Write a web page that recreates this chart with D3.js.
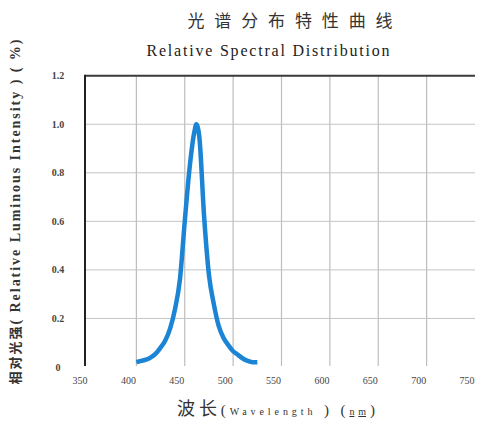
<!DOCTYPE html>
<html>
<head>
<meta charset="utf-8">
<script src="https://cdn.jsdelivr.net/npm/d3@7"></script>
<style>
  html, body { margin: 0; padding: 0; background: #fff; }
  svg { display: block; }
</style>
</head>
<body>
<div id="chart"></div>
<script>
// ---- data ----
const wavelengths = [400, 405, 410, 415, 420, 425, 430, 435, 440, 445, 450, 455, 460, 462, 465, 470, 475, 480, 485, 490, 495, 500, 505, 510, 515, 520, 525];
const intensity   = [0.02, 0.025, 0.03, 0.04, 0.055, 0.08, 0.11, 0.16, 0.24, 0.36, 0.60, 0.82, 0.97, 1.0, 0.95, 0.62, 0.38, 0.26, 0.17, 0.12, 0.09, 0.065, 0.05, 0.035, 0.025, 0.02, 0.02];
const xTicks = [350, 400, 450, 500, 550, 600, 650, 700, 750];
const yTicks = [0, 0.2, 0.4, 0.6, 0.8, 1.0, 1.2];
const yTickLabels = ["0", "0.2", "0.4", "0.6", "0.8", "1.0", "1.2"];
const titleText = "光谱分布特性曲线";
const subtitleText = "Relative Spectral Distribution";

// ---- layout ----
const W = 488, H = 429;
const svg = d3.select("#chart").append("svg").attr("width", W).attr("height", H);

const x = d3.scaleLinear().domain([350, 750]).range([88, 475]);
const y = d3.scaleLinear().domain([0, 1.2]).range([367, 75.7]);

const serif = "'Liberation Serif', 'DejaVu Serif', serif";
const cjk = "'Noto Sans CJK SC', sans-serif";

// vertical gridlines
svg.append("g").selectAll("line")
  .data(xTicks.filter(t => t > 350 && t < 750))
  .join("line")
  .attr("x1", d => x(d)).attr("x2", d => x(d))
  .attr("y1", y(1.2)).attr("y2", y(0) - 1)
  .attr("stroke", "#bdbdbd").attr("stroke-width", 1.2);

// horizontal gridlines
svg.append("g").selectAll("line")
  .data(yTicks.filter(t => t > 0 && t < 1.2))
  .join("line")
  .attr("x1", x(350) - 3).attr("x2", x(750))
  .attr("y1", d => y(d)).attr("y2", d => y(d))
  .attr("stroke", "#c4c4c4").attr("stroke-width", 1);

// top border
svg.append("line")
  .attr("x1", x(350) - 3).attr("x2", x(750))
  .attr("y1", y(1.2)).attr("y2", y(1.2))
  .attr("stroke", "#3a3a3a").attr("stroke-width", 2);

// left axis
svg.append("line")
  .attr("x1", x(350) - 3).attr("x2", x(350) - 3)
  .attr("y1", y(1.2) - 1).attr("y2", y(0) - 1)
  .attr("stroke", "#222").attr("stroke-width", 2);

// y tick labels
svg.append("g").selectAll("text")
  .data(yTicks)
  .join("text")
  .attr("x", 58).attr("y", d => y(d))
  .attr("dy", "0.35em")
  .attr("text-anchor", "middle")
  .attr("font-family", serif).attr("font-size", 10).attr("font-weight", "bold")
  .attr("fill", "#444")
  .text((d, i) => yTickLabels[i]);

// x tick labels
svg.append("g").selectAll("text")
  .data(xTicks)
  .join("text")
  .attr("x", d => x(d) - 8).attr("y", 384)
  .attr("text-anchor", "middle")
  .attr("font-family", serif).attr("font-size", 10)
  .attr("fill", "#444")
  .text(d => d);

// curve
const data = wavelengths.map((w, i) => ({ w, v: intensity[i] }));
const line = d3.line().x(d => x(d.w)).y(d => y(d.v)).curve(d3.curveMonotoneX);
svg.append("path")
  .datum(data)
  .attr("d", line)
  .attr("fill", "none")
  .attr("stroke", "#1b84d4")
  .attr("stroke-width", 4.5)
  .attr("stroke-linejoin", "round");

// title
svg.append("text")
  .attr("x", 290).attr("y", 27)
  .attr("text-anchor", "middle")
  .attr("font-family", cjk).attr("font-size", 17)
  .attr("textLength", 205).attr("lengthAdjust", "spacing")
  .attr("fill", "#333")
  .text(titleText);

// subtitle
svg.append("text")
  .attr("x", 268).attr("y", 56)
  .attr("text-anchor", "middle")
  .attr("font-family", serif).attr("font-size", 16)
  .attr("textLength", 243).attr("lengthAdjust", "spacing")
  .attr("fill", "#222")
  .text(subtitleText);

// y axis title
const yt = svg.append("text")
  .attr("transform", "translate(20,212) rotate(-90)")
  .attr("text-anchor", "middle")
  .attr("font-family", serif).attr("font-size", 14).attr("font-weight", "bold")
  .attr("fill", "#333")
  .attr("textLength", 345).attr("lengthAdjust", "spacing");
yt.append("tspan").attr("font-family", cjk).attr("font-weight", "bold").attr("font-size", 13).text("相对光强");
yt.append("tspan").text("( Relative Luminous Intensity ) ( %)");

// x axis title
const xt = svg.append("text")
  .attr("x", 276).attr("y", 415)
  .attr("text-anchor", "middle")
  .attr("fill", "#333")
  .attr("font-family", serif)
  .attr("textLength", 198).attr("lengthAdjust", "spacing");
xt.append("tspan").attr("font-family", cjk).attr("font-size", 18).text("波长");
xt.append("tspan").attr("font-size", 15).text("(");
xt.append("tspan").attr("font-size", 10).text("Wavelength");
xt.append("tspan").attr("font-size", 15).text(" ) (");
xt.append("tspan").attr("font-size", 10).attr("text-decoration", "underline").text("nm");
xt.append("tspan").attr("font-size", 15).text(")");
</script>
</body>
</html>
